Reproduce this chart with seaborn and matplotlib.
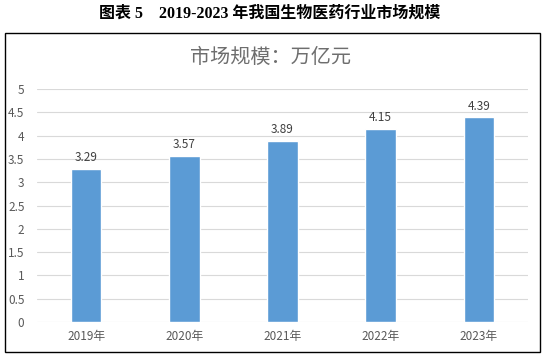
import matplotlib
matplotlib.use("Agg")
import matplotlib.pyplot as plt
import seaborn as sns
import pandas as pd
from matplotlib.patches import Rectangle

years = ["2019年", "2020年", "2021年", "2022年", "2023年"]
values = [3.29, 3.57, 3.89, 4.15, 4.39]
yticks = [0, 0.5, 1, 1.5, 2, 2.5, 3, 3.5, 4, 4.5, 5]
ytick_labels = ["0", "0.5", "1", "1.5", "2", "2.5", "3", "3.5", "4", "4.5", "5"]

sns.set_theme(style="white")
plt.rcParams['font.family'] = ['Noto Sans CJK SC', 'DejaVu Sans']

df = pd.DataFrame({"year": years, "value": values})

fig = plt.figure(figsize=(5.48, 3.57), dpi=100)
ax = fig.add_axes([0.0675, 0.098, 0.896, 0.6527])

sns.barplot(data=df, x="year", y="value", color="#5B9BD5", width=0.31,
            saturation=1, ax=ax, zorder=3)

ax.set_ylim(0, 5)
ax.set_yticks(yticks)
ax.set_yticklabels(ytick_labels)
ax.yaxis.grid(True, color="#D9D9D9", linewidth=0.8, zorder=0)
ax.set_axisbelow(True)
for s in ax.spines.values():
    s.set_visible(False)
ax.set_xlabel("")
ax.set_ylabel("")
ax.tick_params(axis="both", length=0, labelsize=8.5, colors="#595959")
ax.tick_params(axis="y", pad=9)
ax.tick_params(axis="x", pad=6)
ax.set_xlim(-0.5, 4.5)

for i, v in enumerate(values):
    ax.text(i, v + 0.1, f"{v:.2f}", ha="center", va="bottom",
            fontsize=8.5, color="#404040")

fig.patches.append(Rectangle((0.009, 0.014), 0.976, 0.894, transform=fig.transFigure,
                             fill=False, edgecolor="black", linewidth=1.0))

fig.text(0.493, 0.84, "市场规模：万亿元", ha="center", va="center",
         fontsize=14.5, color="#6E6E6E")

fig.text(0.493, 0.962, "图表 5    2019-2023 年我国生物医药行业市场规模", ha="center", va="center",
         fontsize=11.5, fontweight="bold", color="black",
         family=['Liberation Serif', 'Noto Sans CJK SC'])

fig.savefig("out.png", dpi=100)
